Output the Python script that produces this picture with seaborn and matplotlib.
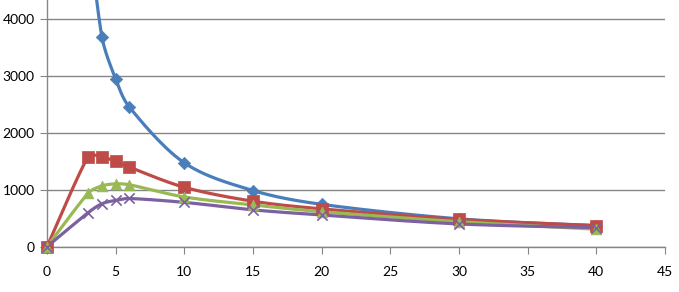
import numpy as np
import pandas as pd
import matplotlib
matplotlib.use("Agg")
import matplotlib.pyplot as plt
import seaborn as sns

# ---- data ----
x_vals = [0, 3, 4, 5, 6, 10, 15, 20, 30, 40]
blue_x = [3, 4, 5, 6, 10, 15, 20, 30, 40]
blue_y = [5600, 3690, 2950, 2455, 1475, 988, 745, 490, 370]
blue_start_x = [0]
blue_start_y = [0]
red_y = [0, 1585, 1580, 1500, 1400, 1045, 800, 665, 480, 372]
green_y = [0, 942, 1070, 1105, 1090, 875, 735, 615, 440, 308]
purple_y = [0, 600, 756, 815, 848, 780, 648, 558, 400, 335]

x_ticks = [0, 5, 10, 15, 20, 25, 30, 35, 40, 45]
y_ticks = [0, 1000, 2000, 3000, 4000]

colors = {"blue": "#4A7EBB", "red": "#BE4B48", "green": "#98B954", "purple": "#7D60A0"}
markers = {"blue": "D", "red": "s", "green": "^", "purple": "x"}

XLIM = (0, 45)
YLIM = (0, 4340)
PX_W, PX_H = 618.0, 246.7


def smooth(xs, ys, n=40):
    # Bezier smoothing computed in screen space with limited tangent length
    sxs = (np.asarray(xs, float) - XLIM[0]) / (XLIM[1] - XLIM[0]) * PX_W
    sys_ = (np.asarray(ys, float) - YLIM[0]) / (YLIM[1] - YLIM[0]) * PX_H
    P = np.column_stack([sxs, sys_])
    m = len(P)
    tang = []
    for i in range(m):
        p0 = P[i - 1] if i > 0 else P[i]
        p2 = P[i + 1] if i + 1 < m else P[i]
        tang.append((p2 - p0) / 6.0)
    out = [P[0]]
    for i in range(m - 1):
        p1, p2 = P[i], P[i + 1]
        L = np.linalg.norm(p2 - p1) / 3.0
        d1, d2 = tang[i], tang[i + 1]
        if np.linalg.norm(d1) > L:
            d1 = d1 / np.linalg.norm(d1) * L
        if np.linalg.norm(d2) > L:
            d2 = d2 / np.linalg.norm(d2) * L
        c1 = p1 + d1
        c2 = p2 - d2
        t = np.linspace(0, 1, n)[1:, None]
        seg = ((1 - t) ** 3) * p1 + 3 * ((1 - t) ** 2) * t * c1 + 3 * (1 - t) * t ** 2 * c2 + t ** 3 * p2
        out.extend(seg)
    out = np.array(out)
    ox = out[:, 0] / PX_W * (XLIM[1] - XLIM[0]) + XLIM[0]
    oy = out[:, 1] / PX_H * (YLIM[1] - YLIM[0]) + YLIM[0]
    return ox, oy


sns.set_style("white")
plt.rcParams["font.family"] = ["Lato", "DejaVu Sans"]

fig = plt.figure(figsize=(6.79, 2.92), dpi=100)
ax = fig.add_axes([47 / 679, (292 - 246.7) / 292, (665 - 47) / 679, 246.7 / 292])

series = [
    ("blue", blue_x, blue_y),
    ("red", x_vals, red_y),
    ("green", x_vals, green_y),
    ("purple", x_vals, purple_y),
]

for name, xs, ys in series:
    sx, sy = smooth(xs, ys)
    df = pd.DataFrame({"x": sx, "y": sy})
    sns.lineplot(data=df, x="x", y="y", ax=ax, color=colors[name], lw=2.3,
                 sort=False, estimator=None, zorder=3)

df0 = pd.DataFrame({"x": blue_start_x, "y": blue_start_y})
sns.scatterplot(data=df0, x="x", y="y", ax=ax, marker="D", s=40, color=colors["blue"],
                edgecolor=colors["blue"], zorder=2)

for name, xs, ys in series:
    df = pd.DataFrame({"x": xs, "y": ys})
    if markers[name] == "x":
        sns.scatterplot(data=df, x="x", y="y", ax=ax, marker="x", s=55,
                        color=colors[name], linewidth=1.2, zorder=4)
    else:
        sz = {"D": 40, "s": 70, "^": 60}[markers[name]]
        sns.scatterplot(data=df, x="x", y="y", ax=ax, marker=markers[name], s=sz,
                        color=colors[name], edgecolor=colors[name], linewidth=0.5, zorder=4)

for coll in ax.collections:
    coll.set_clip_on(False)

ax.set_xlim(*XLIM)
ax.set_ylim(*YLIM)
ax.set_xticks(x_ticks)
ax.set_yticks(y_ticks)
ax.set_xlabel("")
ax.set_ylabel("")
ax.yaxis.grid(True, color="#868686", lw=1.0)
ax.xaxis.grid(False)
ax.set_axisbelow(True)
for s in ["top", "right"]:
    ax.spines[s].set_visible(False)
for s in ["left", "bottom"]:
    ax.spines[s].set_color("#868686")
    ax.spines[s].set_linewidth(1.0)
ax.tick_params(axis="x", direction="out", length=5, color="#868686", labelsize=10, pad=9)
ax.tick_params(axis="y", direction="out", length=5, color="#868686", labelsize=10, pad=4)
ax.tick_params(bottom=True, left=True)
for lab in ax.get_xticklabels() + ax.get_yticklabels():
    lab.set_color("#000000")

fig.savefig("out.png", dpi=100, facecolor="white")
